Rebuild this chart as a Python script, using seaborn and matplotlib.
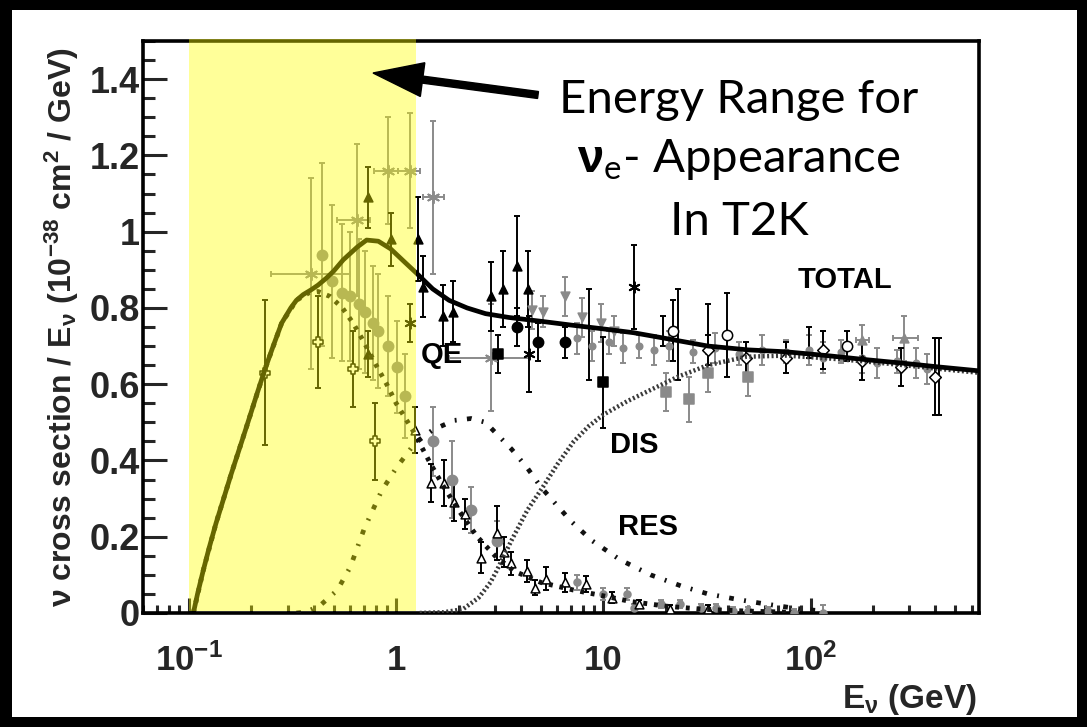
import numpy as np
import pandas as pd
import matplotlib
matplotlib.use("Agg")
import matplotlib.pyplot as plt
import seaborn as sns
from matplotlib.patches import Rectangle, FancyArrow
from matplotlib.transforms import IdentityTransform
from matplotlib.ticker import FixedLocator, FixedFormatter, MultipleLocator, LogLocator, NullFormatter

# ---------------- model curves (E in GeV, sigma/E in 1e-38 cm^2/GeV) ----------------
total_E = [0.105, 0.11, 0.117, 0.125, 0.135, 0.147, 0.16, 0.175, 0.19, 0.213, 0.233, 0.255, 0.28,
           0.31, 0.33, 0.356, 0.39, 0.42, 0.46, 0.50, 0.555, 0.65, 0.72, 0.82, 0.94, 1.1, 1.26,
           1.5, 1.8, 2.2, 2.7, 3.5, 5.0, 7.0, 10.0, 14.0, 20.0, 32.0, 50.0, 76.0, 120.0, 180.0,
           280.0, 420.0, 650.0]
total_xs = [0.0, 0.05, 0.11, 0.17, 0.235, 0.30, 0.365, 0.43, 0.49, 0.575, 0.64, 0.70, 0.76,
            0.80, 0.82, 0.835, 0.848, 0.86, 0.878, 0.897, 0.926, 0.96, 0.978, 0.975, 0.955, 0.92,
            0.89, 0.85, 0.82, 0.80, 0.785, 0.775, 0.765, 0.755, 0.745, 0.735, 0.72, 0.70, 0.69,
            0.685, 0.675, 0.665, 0.655, 0.645, 0.635]

qe_E = [0.105, 0.117, 0.135, 0.16, 0.19, 0.233, 0.28, 0.33, 0.38, 0.42, 0.48, 0.55, 0.62, 0.70,
        0.80, 0.90, 1.0, 1.2, 1.47, 1.7, 2.0, 2.46, 3.0, 3.7, 5.0, 7.2, 10.0, 13.6, 20.0, 30.0,
        49.0, 80.0]
qe_xs = [0.0, 0.11, 0.235, 0.365, 0.49, 0.64, 0.76, 0.82, 0.84, 0.843, 0.83, 0.80, 0.76, 0.71,
         0.65, 0.60, 0.55, 0.48, 0.39, 0.33, 0.27, 0.20, 0.15, 0.11, 0.08, 0.06, 0.045, 0.03,
         0.018, 0.01, 0.005, 0.002]

res_E = [0.33, 0.37, 0.43, 0.52, 0.60, 0.70, 0.85, 1.0, 1.23, 1.5, 1.9, 2.3, 2.7, 3.05, 3.6, 4.3,
         5.0, 5.8, 7.0, 8.8, 12.0, 16.9, 24.0, 32.0, 45.0, 60.0, 85.0, 115.0]
res_xs = [0.0, 0.003, 0.02, 0.06, 0.12, 0.22, 0.32, 0.38, 0.445, 0.48, 0.505, 0.51, 0.50, 0.47,
          0.43, 0.38, 0.33, 0.29, 0.24, 0.19, 0.14, 0.10, 0.07, 0.05, 0.035, 0.024, 0.012, 0.005]

dis_E = [1.3, 1.7, 2.1, 2.5, 2.85, 3.05, 3.6, 4.3, 5.1, 6.0, 7.2, 8.5, 10.0, 13.0, 16.9, 23.0,
         32.0, 49.0, 76.0, 120.0, 180.0, 280.0, 420.0, 650.0]
dis_xs = [0.0, 0.002, 0.01, 0.04, 0.08, 0.11, 0.19, 0.27, 0.33, 0.39, 0.45, 0.49, 0.52, 0.555,
          0.585, 0.62, 0.65, 0.672, 0.675, 0.668, 0.66, 0.65, 0.64, 0.63]

# ---------------- measurements ----------------
# gray filled circles (QE region)
gc_E = [0.44, 0.49, 0.55, 0.60, 0.66, 0.71, 0.77, 0.82, 0.91, 1.01, 1.1, 1.51, 1.87, 2.3, 3.05]
gc_v = [0.94, 0.87, 0.84, 0.83, 0.81, 0.79, 0.76, 0.74, 0.70, 0.645, 0.57, 0.45, 0.35, 0.27, 0.19]
gc_e = [0.24, 0.20, 0.18, 0.17, 0.17, 0.16, 0.15, 0.15, 0.13, 0.12, 0.11, 0.09, 0.10, 0.06, 0.05]

# gray asterisks with energy bins
ga_E = [0.39, 0.65, 0.91, 1.17, 1.51, 2.86]
ga_v = [0.89, 1.03, 1.16, 1.16, 1.09, 0.67]
ga_e = [0.25, 0.20, 0.14, 0.15, 0.20, 0.14]
ga_lo = [0.25, 0.52, 0.78, 1.02, 1.35, 1.8]
ga_hi = [0.60, 0.75, 1.02, 1.30, 1.70, 4.4]

# black filled triangles
bt_E = [0.73, 0.73, 0.94, 1.27, 1.35, 1.69, 1.88, 2.86, 3.26, 3.85, 4.33]
bt_v = [1.09, 0.68, 0.98, 0.98, 0.855, 0.78, 0.79, 0.83, 0.85, 0.91, 0.85]
bt_e = [0.08, 0.06, 0.07, 0.11, 0.08, 0.08, 0.08, 0.09, 0.10, 0.13, 0.10]

# black open triangles (falling QE data)
ot_E = [1.23, 1.47, 1.7, 1.9, 2.15, 2.57, 3.05, 3.3, 3.6, 4.3, 4.7, 5.3, 6.5, 8.2, 11.0, 14.8, 21.0, 32.0]
ot_v = [0.48, 0.34, 0.34, 0.29, 0.26, 0.145, 0.21, 0.16, 0.13, 0.11, 0.066, 0.09, 0.08, 0.076, 0.04, 0.024, 0.01, 0.01]
ot_e = [0.06, 0.05, 0.06, 0.05, 0.04, 0.04, 0.07, 0.04, 0.03, 0.03, 0.02, 0.03, 0.025, 0.02, 0.015, 0.01, 0.01, 0.01]

# black filled circles
bc_E = [3.85, 4.85, 6.5]
bc_v = [0.75, 0.71, 0.71]
bc_e = [0.05, 0.05, 0.04]

# black squares
bs_E = [3.1, 10.0]
bs_v = [0.68, 0.605]
bs_e = [0.05, 0.12]

# gray squares
gs_E = [20.0, 26.0, 32.0, 50.0]
gs_v = [0.58, 0.56, 0.63, 0.62]
gs_e = [0.05, 0.06, 0.05, 0.05]

# black asterisks
ba_E = [1.17, 4.4, 14.0]
ba_v = [0.76, 0.68, 0.855]
ba_e = [0.05, 0.10, 0.11]

# black open circles
oc_E = [21.8, 39.7, 150.0]
oc_v = [0.74, 0.73, 0.70]
oc_e = [0.08, 0.11, 0.04]

# gray down triangles
gd_E = [4.5, 5.1, 6.5, 7.9, 9.7, 11.2]
gd_v = [0.795, 0.79, 0.83, 0.775, 0.76, 0.74]
gd_e = [0.05, 0.04, 0.05, 0.05, 0.05, 0.04]

# gray points along the total at high energy
gh_E = [7.5, 8.8, 10.6, 12.5, 14.8, 17.6, 20.8, 27.0, 34.7, 45.0, 58.0, 76.0, 98.0, 115.0,
        141.0, 178.0, 210.0, 260.0, 322.0, 365.0]
gh_v = [0.72, 0.70, 0.71, 0.695, 0.70, 0.69, 0.70, 0.685, 0.695, 0.68, 0.69, 0.685, 0.69, 0.67,
        0.685, 0.67, 0.655, 0.66, 0.655, 0.64]
gh_e = [0.04, 0.04, 0.03, 0.04, 0.03, 0.04, 0.04, 0.03, 0.04, 0.03, 0.04, 0.03, 0.04, 0.04,
        0.03, 0.04, 0.04, 0.03, 0.04, 0.04]

# open diamonds
od_E = [32.0, 49.0, 76.0, 115.0, 178.0, 272.0, 400.0]
od_v = [0.69, 0.67, 0.67, 0.69, 0.66, 0.645, 0.62]
od_e = [0.04, 0.04, 0.04, 0.05, 0.05, 0.05, 0.10]

# gray up triangles with bins
gu_E = [178.0, 283.0]
gu_v = [0.715, 0.72]
gu_e = [0.04, 0.06]
gu_lo = [165.0, 250.0]
gu_hi = [192.0, 330.0]

# black open crosses (low energy)
bx_E = [0.233, 0.42, 0.62, 0.79]
bx_v = [0.63, 0.71, 0.64, 0.45]
bx_e = [0.19, 0.12, 0.10, 0.10]

# black bare error bars
bb_E = [8.5, 19.5, 23.0, 32.0, 98.0, 417.0]
bb_v = [0.73, 0.74, 0.73, 0.75, 0.71, 0.62]
bb_e = [0.12, 0.04, 0.12, 0.06, 0.04, 0.10]

# gray tail of QE data
gt_E = [7.5, 10.0, 13.0, 14.0, 19.0, 23.5, 29.5, 35.0, 42.0, 50.0, 62.0, 83.0, 115.0]
gt_v = [0.08, 0.05, 0.05, 0.013, 0.024, 0.024, 0.013, 0.013, 0.005, 0.005, 0.005, 0.0, 0.0]
gt_e = [0.02, 0.015, 0.015, 0.01, 0.01, 0.01, 0.01, 0.01, 0.01, 0.01, 0.01, 0.01, 0.02]

y_ticks = [0.0, 0.2, 0.4, 0.6, 0.8, 1.0, 1.2, 1.4]
y_ticklabels = ["0", "0.2", "0.4", "0.6", "0.8", "1", "1.2", "1.4"]
x_ticks = [0.1, 1.0, 10.0, 100.0]
x_ticklabels = [r"$\mathbf{10^{-1}}$", "1", "10", r"$\mathbf{10^{2}}$"]

# ---------------- style ----------------
sns.set_theme(style="ticks")
plt.rcParams['font.family'] = ['Liberation Sans', 'DejaVu Sans']
plt.rcParams['font.weight'] = 'bold'
plt.rcParams['mathtext.fontset'] = 'custom'
plt.rcParams['mathtext.rm'] = 'Liberation Sans:bold'
plt.rcParams['mathtext.bf'] = 'Liberation Sans:bold'
plt.rcParams['mathtext.it'] = 'Liberation Sans:bold:italic'

W, H = 1087, 727
fig = plt.figure(figsize=(W / 100, H / 100), dpi=100)
fig.patch.set_facecolor('black')
fig.add_artist(Rectangle((12 / W, 10 / H), 1065 / W, 707 / H, transform=fig.transFigure,
                         facecolor='white', edgecolor='none', zorder=-10))

ax = fig.add_axes([143 / W, (H - 613) / H, 836 / W, 572 / H])
ax.set_facecolor('white')
ax.set_xscale('log')

BLACK = '#000000'
GRAY = '#8a8a8a'


def draw(E, v, e, marker, face, edge, ecolor, size=32, lo=None, hi=None, lw=1.1):
    xerr = None
    if lo is not None:
        xerr = [np.array(E) - np.array(lo), np.array(hi) - np.array(E)]
    ax.errorbar(E, v, yerr=e, xerr=xerr, fmt='none', ecolor=ecolor, elinewidth=1.4,
                capsize=2.2, capthick=1.4, zorder=2)
    if marker is None:
        return
    m = matplotlib.markers.MarkerStyle(marker)
    if m.is_filled():
        sns.scatterplot(x=E, y=v, marker=marker, s=size, color=face, edgecolor=edge,
                        linewidth=lw, ax=ax, zorder=3, legend=False)
    else:
        sns.scatterplot(x=E, y=v, marker=marker, s=size, color=face,
                        linewidth=lw + 0.3, ax=ax, zorder=3, legend=False)


draw(gc_E, gc_v, gc_e, 'o', GRAY, GRAY, GRAY, size=55)
draw(ga_E, ga_v, ga_e, (6, 2, 0), GRAY, GRAY, GRAY, size=70, lo=ga_lo, hi=ga_hi)
draw(gd_E, gd_v, gd_e, 'v', GRAY, GRAY, GRAY, size=40)
draw(gh_E, gh_v, gh_e, 'o', GRAY, GRAY, GRAY, size=22)
draw(gs_E, gs_v, gs_e, 's', GRAY, GRAY, GRAY, size=45)
draw(gu_E, gu_v, gu_e, '^', GRAY, GRAY, GRAY, size=40, lo=gu_lo, hi=gu_hi)
draw(gt_E, gt_v, gt_e, 'o', GRAY, GRAY, GRAY, size=25)
draw(bt_E, bt_v, bt_e, '^', BLACK, BLACK, BLACK, size=40)
draw(ot_E, ot_v, ot_e, '^', 'white', BLACK, BLACK, size=40)
draw(bc_E, bc_v, bc_e, 'o', BLACK, BLACK, BLACK, size=55)
draw(bs_E, bs_v, bs_e, 's', BLACK, BLACK, BLACK, size=50)
draw(ba_E, ba_v, ba_e, (6, 2, 0), BLACK, BLACK, BLACK, size=60)
draw(oc_E, oc_v, oc_e, 'o', 'white', BLACK, BLACK, size=55)
draw(od_E, od_v, od_e, 'D', 'white', BLACK, BLACK, size=35)
draw(bx_E, bx_v, bx_e, 'P', 'white', BLACK, BLACK, size=60)
draw(bb_E, bb_v, bb_e, None, BLACK, BLACK, BLACK)

# model curves
sns.lineplot(x=dis_E, y=dis_xs, ax=ax, color='#3a3a3a', lw=3.2, linestyle=(0, (0.45, 0.55)),
             zorder=4, sort=False)
sns.lineplot(x=res_E, y=res_xs, ax=ax, color='#111111', lw=3.4, linestyle=(0, (1.0, 2.2, 0.4, 2.2)),
             zorder=4, sort=False)
sns.lineplot(x=qe_E, y=qe_xs, ax=ax, color='#111111', lw=3.5, linestyle=(0, (0.8, 1.4)),
             zorder=4, sort=False)
sns.lineplot(x=total_E, y=total_xs, ax=ax, color=BLACK, lw=3.4, zorder=5, sort=False)

ax.set_xlim(0.06, 650)
ax.set_ylim(0, 1.5)

# in-plot labels
lab_kw = dict(fontsize=21, fontweight='bold', ha='center', va='center', color='black', zorder=6)
ax.text(147, 0.874, "TOTAL", **lab_kw)
ax.text(1.67, 0.676, "QE", **lab_kw)
ax.text(14.1, 0.44, "DIS", **lab_kw)
ax.text(16.5, 0.226, "RES", **lab_kw)

# ticks
ax.yaxis.set_major_locator(FixedLocator(y_ticks))
ax.yaxis.set_major_formatter(FixedFormatter(y_ticklabels))
ax.yaxis.set_minor_locator(MultipleLocator(0.05))
ax.xaxis.set_major_locator(FixedLocator(x_ticks))
ax.xaxis.set_major_formatter(FixedFormatter(x_ticklabels))
ax.xaxis.set_minor_locator(LogLocator(base=10, subs=np.arange(2, 10)))
ax.xaxis.set_minor_formatter(NullFormatter())
ax.tick_params(axis='y', which='major', direction='in', length=17, width=2.2, labelsize=26, pad=2)
ax.tick_params(axis='y', which='minor', direction='in', length=8.5, width=2.2)
ax.tick_params(axis='x', which='major', direction='in', length=11, width=2.2, labelsize=25, pad=22)
ax.tick_params(axis='x', which='minor', direction='in', length=5.5, width=2.2)
for s in ax.spines.values():
    s.set_linewidth(2.6)
    s.set_color('black')

ax.set_ylabel(r"$\mathrm{\nu}$ cross section / E$_{\mathrm{\nu}}$ (10$^{-38}$ cm$^{2}$ / GeV)",
              fontsize=23, fontweight='bold', va='center')
ax.yaxis.set_label_coords(-0.097, 0.5)
ax.set_xlabel(r"E$_{\mathrm{\nu}}$ (GeV)", fontsize=24, fontweight='bold', ha='right', va='center')
ax.xaxis.set_label_coords(0.998, -0.152)

# yellow highlight band (drawn above everything inside the axes)
fig.add_artist(Rectangle((0.1, 0.003), 1.25 - 0.1, 1.004 - 0.003, transform=ax.get_xaxis_transform(),
                         facecolor=(1, 1, 0), alpha=0.4, edgecolor='none', zorder=10))

# arrow and annotation
fig.add_artist(FancyArrow(538, H - 95, -165, 22, width=7, head_width=34, head_length=50,
                          length_includes_head=True, color='black', transform=IdentityTransform(),
                          zorder=11))
ann_kw = dict(fontsize=34, ha='center', va='center', color='black',
              family=['Lato', 'DejaVu Sans'], fontweight='normal', zorder=11)
fig.text(739 / W, 1 - 100 / H, "Energy Range for", **ann_kw)
fig.text(739 / W, 1 - 160 / H, r"$\mathrm{\nu}_{\mathregular{e}}$- Appearance", **ann_kw)
fig.text(739 / W, 1 - 222 / H, "In T2K", **ann_kw)

fig.savefig("out.png", dpi=100, facecolor=fig.get_facecolor())
